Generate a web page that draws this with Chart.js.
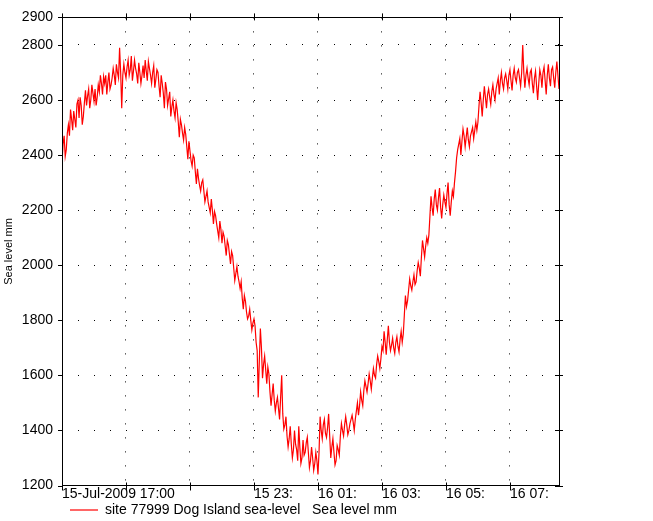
<!DOCTYPE html>
<html>
<head>
<meta charset="utf-8">
<script src="https://cdn.jsdelivr.net/npm/chart.js@4/dist/chart.umd.min.js"></script>
<style>
  body { margin: 0; background: #fff; }
  #wrap { width: 653px; height: 521px; }
</style>
</head>
<body>
<div id="wrap"><canvas id="myChart" width="653" height="521"></canvas></div>
<script>
const ctx = document.getElementById('myChart');

// sea level readings (mm), one every 2 minutes from 15-Jul-2009 17:00
const stepMinutes = 2;
const seaLevel = [
    2370, 2440, 2470, 2395, 2420, 2480, 2510, 2470, 2565, 2530,
    2490, 2560, 2530, 2500, 2585, 2600, 2535, 2610, 2580, 2510,
    2540, 2590, 2635, 2580, 2615, 2640, 2570, 2600, 2655, 2625,
    2595, 2640, 2580, 2610, 2655, 2630, 2690, 2660, 2620, 2685,
    2660, 2690, 2620, 2665, 2700, 2640, 2655, 2680, 2715, 2690,
    2655, 2730, 2700, 2680, 2790, 2700, 2570, 2690, 2730, 2700,
    2680, 2720, 2745, 2690, 2710, 2760, 2670, 2705, 2745, 2715,
    2695, 2660, 2735, 2700, 2660, 2690, 2725, 2680, 2745, 2705,
    2670, 2740, 2715, 2690, 2660, 2700, 2725, 2645, 2675, 2710,
    2700, 2650, 2610, 2690, 2660, 2625, 2570, 2665, 2640, 2580,
    2605, 2630, 2540, 2575, 2600, 2560, 2535, 2590, 2565, 2520,
    2465, 2530, 2510, 2480, 2455, 2500, 2475, 2430, 2385, 2450,
    2415, 2380, 2360, 2400, 2390, 2340, 2295, 2350, 2315, 2290,
    2270, 2300, 2310, 2270, 2230, 2250, 2270, 2230, 2210, 2190,
    2240, 2200, 2150, 2195, 2180, 2150, 2125, 2100, 2160, 2130,
    2080, 2120, 2105, 2070, 2035, 2090, 2075, 2040, 2005, 2050,
    2035, 1990, 1945, 1970, 1995, 1960, 1940, 1915, 1940, 1880,
    1840, 1890, 1870, 1830, 1805, 1815, 1840, 1800, 1765, 1790,
    1805, 1780, 1720, 1690, 1520, 1650, 1770, 1700, 1590, 1640,
    1670, 1620, 1570, 1630, 1605, 1540, 1490, 1530, 1570, 1510,
    1470, 1500, 1520, 1480, 1440, 1520, 1600, 1460, 1405, 1420,
    1450, 1380, 1340, 1370, 1415, 1350, 1300, 1330, 1400, 1350,
    1330, 1290, 1415, 1340, 1280, 1300, 1365, 1310, 1320, 1355,
    1375, 1320, 1265, 1290, 1340, 1300, 1255, 1280, 1320, 1290,
    1240, 1320, 1450, 1400, 1370, 1420, 1440, 1390, 1375, 1410,
    1460, 1380, 1300, 1340, 1370, 1320, 1275, 1290, 1345, 1330,
    1310, 1380, 1425, 1400, 1380, 1420, 1450, 1420, 1385, 1400,
    1425, 1440, 1455, 1430, 1400, 1440, 1470, 1500, 1455, 1490,
    1540, 1510, 1490, 1545, 1580, 1560, 1540, 1570, 1605, 1580,
    1550, 1590, 1625, 1600, 1590, 1640, 1670, 1650, 1625, 1660,
    1705, 1690, 1760, 1720, 1675, 1730, 1780, 1720, 1690, 1710,
    1735, 1700, 1680, 1720, 1740, 1705, 1685, 1730, 1760, 1720,
    1750, 1820, 1890, 1850, 1870, 1910, 1950, 1925, 1910, 1940,
    1965, 1930, 1940, 1980, 2010, 1990, 1960, 2030, 2090, 2060,
    2030, 2070, 2100, 2080, 2110, 2180, 2250, 2210, 2180, 2240,
    2275, 2220, 2200, 2245, 2280, 2210, 2170, 2220, 2255, 2230,
    2210, 2260, 2300, 2220, 2180, 2230, 2270, 2250, 2300, 2340,
    2390, 2420, 2440, 2460, 2400, 2450, 2495, 2470, 2430, 2465,
    2500, 2455, 2430, 2470, 2485, 2500, 2460, 2490, 2520, 2490,
    2520, 2580, 2630, 2590, 2540, 2600, 2650, 2610, 2570, 2620,
    2640, 2610, 2585, 2630, 2655, 2620, 2600, 2640, 2660, 2680,
    2620, 2670, 2700, 2660, 2640, 2680, 2695, 2670, 2640, 2690,
    2710, 2670, 2635, 2690, 2715, 2680, 2665, 2700, 2710, 2680,
    2650, 2700, 2800, 2700, 2645, 2690, 2715, 2680, 2655, 2700,
    2710, 2660, 2625, 2680, 2705, 2650, 2600, 2660, 2710, 2690,
    2645, 2700, 2720, 2670, 2620, 2690, 2730, 2680, 2650, 2710,
    2720, 2680, 2645, 2700, 2740, 2690, 2640
];

// x axis: minutes after 15-Jul-2009 17:00
const xMax = 932;
const tickMinutes = [0, 120, 240, 360, 480, 600, 720, 840];
const tickLabels = ['15-Jul-2009 17:00', '', '', '15 23:', '16 01:', '16 03:', '16 05:', '16 07:'];
const yTicks = [1200, 1400, 1600, 1800, 2000, 2200, 2400, 2600, 2800, 2900];

const points = seaLevel.map((v, i) => ({ x: i * stepMinutes, y: v }));

const FONT = 'Liberation Sans, Arial, sans-serif';

// frame round the plot with the little tick marks
const framePlugin = {
    id: 'frame',
    afterLayout(chart) {
        // legend sits a bit higher than the layout puts it
        const lg = chart.legend;
        const h = lg.bottom - lg.top;
        lg.top = 495;
        lg.bottom = lg.top + h;
    },
    afterDraw(chart) {
        const a = chart.chartArea;
        const c = chart.ctx;
        const xs = chart.scales.x, ys = chart.scales.y;
        c.save();
        c.setLineDash([]);
        c.strokeStyle = '#000';
        c.lineWidth = 1;
        c.strokeRect(Math.round(a.left) + 0.5, Math.round(a.top) + 0.5,
            Math.round(a.right - a.left), Math.round(a.bottom - a.top));
        c.beginPath();
        tickMinutes.forEach(t => {
            const px = Math.round(xs.getPixelForValue(t)) + 0.5;
            c.moveTo(px, a.top - 4);
            c.lineTo(px, a.top + 3);
            c.moveTo(px, a.bottom - 3);
            c.lineTo(px, a.bottom + 5);
        });
        yTicks.forEach(v => {
            const py = Math.round(ys.getPixelForValue(v)) + 0.5;
            c.moveTo(a.left - 4, py);
            c.lineTo(a.left, py);
            c.moveTo(a.right - 4, py);
            c.lineTo(a.right + 4, py);
        });
        c.stroke();
        c.restore();
    }
};

new Chart(ctx, {
    type: 'line',
    data: {
        datasets: [{
            label: 'site 77999 Dog Island sea-level   Sea level mm',
            data: points,
            borderColor: 'rgb(255, 0, 0)',
            backgroundColor: 'rgb(255, 0, 0)',
            borderWidth: 1.2,
            pointRadius: 0,
            tension: 0,
            fill: false
        }]
    },
    options: {
        responsive: false,
        animation: false,
        devicePixelRatio: 1,
        layout: {
            autoPadding: false,
            padding: { left: 0, right: 94, top: 14, bottom: -12.5 }
        },
        plugins: {
            tooltip: { enabled: false },
            legend: {
                position: 'bottom',
                align: 'start',
                fullSize: false,
                labels: {
                    usePointStyle: true,
                    pointStyle: 'line',
                    pointStyleWidth: 28,
                    padding: 8,
                    color: '#000',
                    font: { family: FONT, size: 14 }
                }
            }
        },
        scales: {
            x: {
                type: 'linear',
                min: 0,
                max: xMax,
                afterBuildTicks: s => { s.ticks = tickMinutes.map(v => ({ value: v })); },
                afterFit: s => { s.height = 16; },
                border: { display: false, dash: [1, 13] },
                grid: {
                    color: '#000',
                    drawTicks: false
                },
                ticks: {
                    align: 'start',
                    autoSkip: false,
                    maxRotation: 0,
                    padding: 0,
                    color: '#000',
                    font: { family: FONT, size: 14 },
                    callback: (v) => tickLabels[tickMinutes.indexOf(v)] || ''
                }
            },
            y: {
                min: 1200,
                max: 2900,
                afterBuildTicks: s => { s.ticks = yTicks.map(v => ({ value: v })); },
                afterFit: s => { s.width = 62; },
                border: { display: false, dash: [1, 15] },
                title: {
                    display: true,
                    text: 'Sea level mm',
                    color: '#000',
                    font: { family: FONT, size: 11 },
                    padding: { top: 2, bottom: 0 }
                },
                grid: {
                    color: '#000',
                    drawTicks: false
                },
                ticks: {
                    padding: 9,
                    color: '#000',
                    font: { family: FONT, size: 14 },
                    callback: v => String(v)
                }
            }
        }
    },
    plugins: [framePlugin]
});
</script>
</body>
</html>
